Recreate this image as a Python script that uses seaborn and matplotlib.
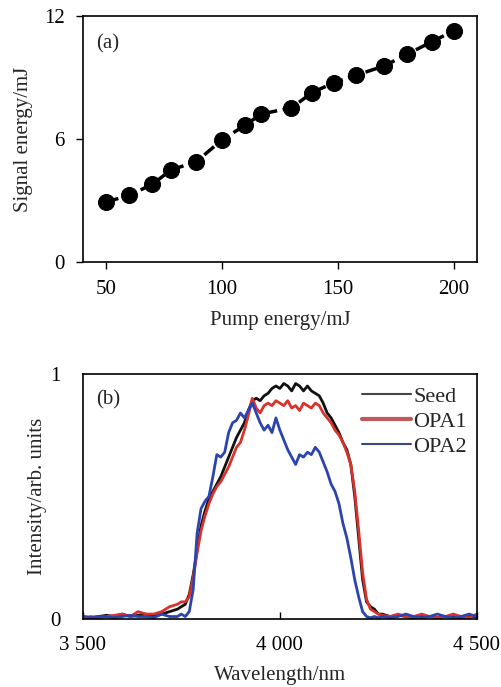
import numpy as np
import pandas as pd
import matplotlib
matplotlib.use('Agg')
import matplotlib.pyplot as plt
import seaborn as sns

# (a) signal energy vs pump energy
pump_mj = [50, 60, 70, 78, 89, 100, 110, 117, 130, 139, 148.5, 158, 170, 180, 190.5, 200]
signal_mj = [2.92, 3.25, 3.79, 4.49, 4.90, 5.96, 6.68, 7.23, 7.53, 8.28, 8.77, 9.13,
             9.58, 10.16, 10.76, 11.30]

# (b) spectra
wavelength_nm = [3500, 3520, 3540, 3560, 3580, 3600, 3620, 3640, 3660, 3680, 3700, 3720,
                 3740, 3750, 3760, 3770, 3780, 3790, 3800, 3810, 3820, 3830, 3840, 3850,
                 3860, 3870, 3880, 3890, 3900, 3910, 3920, 3930, 3940, 3950, 3960, 3970,
                 3980, 3990, 4000, 4010, 4020, 4030, 4040, 4050, 4060, 4070, 4080, 4090,
                 4100, 4110, 4120, 4130, 4140, 4150, 4160, 4170, 4180, 4190, 4200, 4210,
                 4220, 4230, 4240, 4250, 4260,
                 4280, 4300, 4320, 4340, 4360, 4380, 4400, 4420, 4440, 4460, 4480, 4500]
seed = [0.01, 0.005, 0.01, 0.015, 0.01, 0.02, 0.01, 0.015, 0.02, 0.01, 0.02, 0.03,
        0.04, 0.05, 0.06, 0.10, 0.18, 0.28, 0.38, 0.44, 0.49, 0.52, 0.55, 0.58,
        0.62, 0.66, 0.70, 0.74, 0.77, 0.80, 0.85, 0.89, 0.90, 0.89, 0.91, 0.92,
        0.94, 0.95, 0.94, 0.96, 0.95, 0.93, 0.96, 0.95, 0.93, 0.95, 0.93, 0.92,
        0.91, 0.88, 0.84, 0.82, 0.79, 0.76, 0.72, 0.69, 0.63, 0.50, 0.33, 0.16,
        0.07, 0.05, 0.04, 0.02, 0.02,
        0.01, 0.015, 0.01, 0.005, 0.01, 0.01, 0.005, 0.01, 0.01, 0.005, 0.01, 0.01]
opa1 = [0.005, 0.01, 0.005, 0.01, 0.015, 0.02, 0.01, 0.03, 0.02, 0.02, 0.03, 0.05,
        0.06, 0.07, 0.07, 0.09, 0.17, 0.27, 0.36, 0.42, 0.47, 0.51, 0.54, 0.56,
        0.59, 0.62, 0.66, 0.70, 0.72, 0.77, 0.83, 0.90, 0.86, 0.84, 0.87, 0.88,
        0.87, 0.89, 0.88, 0.87, 0.89, 0.86, 0.87, 0.85, 0.88, 0.87, 0.86, 0.88,
        0.87, 0.84, 0.82, 0.80, 0.77, 0.75, 0.72, 0.68, 0.63, 0.52, 0.36, 0.19,
        0.08, 0.04, 0.03, 0.02, 0.015,
        0.01, 0.02, 0.01, 0.01, 0.02, 0.01, 0.005, 0.01, 0.02, 0.01, 0.005, 0.02]
opa2 = [0.01, 0.005, 0.01, 0.01, 0.005, 0.01, 0.015, 0.01, 0.01, 0.005, 0.02, 0.01,
        0.01, 0.02, 0.01, 0.03, 0.12, 0.35, 0.45, 0.48, 0.50, 0.58, 0.67, 0.66,
        0.68, 0.76, 0.80, 0.81, 0.84, 0.82, 0.85, 0.88, 0.84, 0.80, 0.77, 0.79,
        0.76, 0.82, 0.77, 0.73, 0.69, 0.66, 0.63, 0.67, 0.66, 0.68, 0.67, 0.70,
        0.68, 0.64, 0.60, 0.55, 0.52, 0.47, 0.39, 0.33, 0.25, 0.16, 0.09, 0.03,
        0.01, 0.005, 0.01, 0.005, 0.01,
        0.005, 0.01, 0.02, 0.01, 0.005, 0.01, 0.02, 0.01, 0.005, 0.01, 0.02, 0.01]
series_names = ['Seed', 'OPA1', 'OPA2']
series_colors = ['#111111', '#d8322a', '#2b44b0']
wl_ticks = [3500, 4000, 4500]
wl_labels = ['3 500', '4 000', '4 500']

sns.set_theme(style='ticks')
plt.rcParams['font.family'] = ['Liberation Serif', 'DejaVu Serif']
plt.rcParams['axes.linewidth'] = 1.2
fs = 15

fig = plt.figure(figsize=(5.02, 6.87), dpi=100)
ax1 = fig.add_axes([0.165, 0.619, 0.785, 0.357])
ax2 = fig.add_axes([0.165, 0.099, 0.785, 0.357])

# top panel
df_a = pd.DataFrame({'pump': pump_mj, 'signal': signal_mj})
sns.lineplot(data=df_a, x='pump', y='signal', ax=ax1, color='black', linestyle='--',
             linewidth=2.5, marker='o', markersize=11.5, markeredgecolor='black')
ax1.set_xlim(40, 210)
ax1.set_ylim(0, 12)
ax1.set_xticks([50, 100, 150, 200])
ax1.set_yticks([0, 6, 12])
ax1.tick_params(direction='out', labelsize=fs, length=5, width=1, colors='black', pad=8)
ax1.set_xlabel('Pump energy/mJ', fontsize=fs, labelpad=9)
ax1.set_ylabel('Signal energy/mJ', fontsize=fs, labelpad=8)
ax1.text(0.035, 0.89, '(a)', transform=ax1.transAxes, fontsize=fs, ha='left', va='center')
for s in ax1.spines.values():
    s.set_visible(True)
    s.set_color('black')

# bottom panel
df_b = pd.DataFrame({
    'wl': wavelength_nm * 3,
    'I': seed + opa1 + opa2,
    'series': [n for n in series_names for _ in wavelength_nm],
})
sns.lineplot(data=df_b, x='wl', y='I', hue='series', palette=series_colors,
             ax=ax2, linewidth=2.0, legend=True)
ax2.set_xlim(3500, 4500)
ax2.set_ylim(0, 1)
ax2.set_xticks(wl_ticks)
ax2.set_xticklabels(wl_labels)
ax2.set_yticks([0, 1])
ax2.tick_params(axis='y', direction='in', labelsize=fs, length=0, colors='black', pad=16)
ax2.tick_params(axis='x', direction='in', labelsize=fs, length=5, width=1, colors='black', pad=12)
ax2.set_xlabel('Wavelength/nm', fontsize=fs, labelpad=8)
ax2.set_ylabel('Intensity/arb. units', fontsize=fs, labelpad=2)
ax2.text(0.035, 0.894, '(b)', transform=ax2.transAxes, fontsize=fs, ha='left', va='center')
leg = ax2.legend(loc='upper right', bbox_to_anchor=(1.025, 1.03), frameon=False,
                 fontsize=16, handlelength=2.2, handletextpad=0.1, labelspacing=0.2)
for line, c, lw in zip(leg.get_lines(), ['#444444', '#c05a5a', '#3a4a80'], [1.5, 3.0, 1.5]):
    line.set_color(c)
    line.set_linewidth(lw)
for s in ax2.spines.values():
    s.set_visible(True)
    s.set_color('black')

fig.savefig('out.png', dpi=100)
